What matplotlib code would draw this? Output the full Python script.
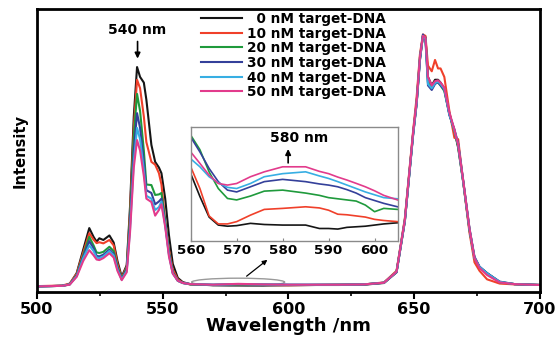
import numpy as np
import matplotlib
matplotlib.use("Agg")
import matplotlib.pyplot as plt
from matplotlib.patches import Ellipse
from matplotlib.ticker import MultipleLocator

plt.rcParams['font.family'] = ['DejaVu Sans']
plt.rcParams['font.weight'] = 'bold'

# main spectrum (wavelength in nm, intensity in a.u.)
wl = [500, 505, 510, 513, 515.8, 518.4, 520.8, 522.5, 523.7, 524.8,
      526.4, 528.8, 530.5, 532, 533.7, 535.7, 537, 538.5, 539.8, 541,
      542.5, 543.5, 545.5, 547, 548.5, 549.5, 551, 552.5, 554, 556,
      558, 561, 570, 580, 590, 600, 610, 620, 630, 638,
      643, 646.3, 649.6, 651, 652.3, 653.5, 654.5, 655.5, 657, 658.3,
      659.5, 660.5, 662, 664, 666, 667.5, 669.5, 672, 674, 676,
      679, 684, 690, 700]

i_0nM = [0.020, 0.021, 0.022, 0.028, 0.067, 0.150, 0.226, 0.195, 0.178, 0.190,
         0.184, 0.200, 0.175, 0.110, 0.054, 0.095, 0.300, 0.620, 0.795, 0.760,
         0.740, 0.680, 0.520, 0.460, 0.440, 0.420, 0.330, 0.200, 0.100, 0.050,
         0.035, 0.028, 0.024, 0.024, 0.023, 0.024, 0.025, 0.025, 0.026, 0.032,
         0.070, 0.250, 0.560, 0.670, 0.820, 0.905, 0.900, 0.760, 0.730, 0.750,
         0.750, 0.740, 0.720, 0.630, 0.570, 0.510, 0.390, 0.220, 0.120, 0.088,
         0.066, 0.035, 0.028, 0.025]
i_10nM = [0.021, 0.022, 0.023, 0.030, 0.065, 0.140, 0.208, 0.185, 0.173, 0.176,
          0.172, 0.184, 0.165, 0.100, 0.050, 0.090, 0.280, 0.580, 0.750, 0.720,
          0.620, 0.530, 0.460, 0.450, 0.420, 0.380, 0.250, 0.150, 0.080, 0.045,
          0.033, 0.027, 0.025, 0.026, 0.025, 0.024, 0.025, 0.026, 0.027, 0.034,
          0.075, 0.260, 0.570, 0.690, 0.840, 0.910, 0.905, 0.800, 0.780, 0.820,
          0.790, 0.790, 0.760, 0.640, 0.545, 0.540, 0.390, 0.210, 0.105, 0.075,
          0.045, 0.030, 0.027, 0.025]
i_20nM = [0.020, 0.021, 0.022, 0.027, 0.060, 0.130, 0.195, 0.165, 0.140, 0.138,
          0.142, 0.160, 0.145, 0.090, 0.047, 0.085, 0.260, 0.550, 0.700, 0.640,
          0.500, 0.380, 0.378, 0.343, 0.345, 0.350, 0.250, 0.140, 0.070, 0.040,
          0.032, 0.027, 0.025, 0.027, 0.026, 0.025, 0.025, 0.026, 0.027, 0.033,
          0.072, 0.255, 0.560, 0.670, 0.830, 0.905, 0.900, 0.740, 0.720, 0.740,
          0.740, 0.730, 0.710, 0.630, 0.570, 0.515, 0.390, 0.220, 0.120, 0.088,
          0.067, 0.035, 0.028, 0.025]
i_30nM = [0.020, 0.021, 0.022, 0.027, 0.058, 0.125, 0.180, 0.155, 0.128, 0.126,
          0.132, 0.150, 0.135, 0.085, 0.045, 0.080, 0.240, 0.500, 0.632, 0.580,
          0.460, 0.360, 0.350, 0.310, 0.320, 0.330, 0.240, 0.135, 0.068, 0.040,
          0.032, 0.028, 0.026, 0.028, 0.027, 0.026, 0.026, 0.026, 0.027, 0.033,
          0.070, 0.250, 0.555, 0.665, 0.820, 0.910, 0.890, 0.730, 0.714, 0.735,
          0.742, 0.730, 0.715, 0.625, 0.575, 0.525, 0.395, 0.225, 0.125, 0.090,
          0.067, 0.037, 0.028, 0.025]
i_40nM = [0.020, 0.021, 0.022, 0.027, 0.056, 0.120, 0.165, 0.145, 0.122, 0.120,
          0.126, 0.145, 0.130, 0.080, 0.044, 0.075, 0.220, 0.460, 0.580, 0.540,
          0.430, 0.340, 0.330, 0.290, 0.300, 0.320, 0.235, 0.130, 0.066, 0.040,
          0.032, 0.028, 0.026, 0.028, 0.027, 0.026, 0.026, 0.026, 0.027, 0.033,
          0.071, 0.252, 0.558, 0.668, 0.825, 0.905, 0.895, 0.735, 0.720, 0.738,
          0.744, 0.735, 0.718, 0.628, 0.572, 0.520, 0.390, 0.222, 0.120, 0.089,
          0.066, 0.036, 0.028, 0.025]
i_50nM = [0.020, 0.021, 0.022, 0.026, 0.054, 0.110, 0.148, 0.130, 0.115, 0.113,
          0.120, 0.137, 0.122, 0.075, 0.042, 0.070, 0.210, 0.440, 0.537, 0.500,
          0.410, 0.330, 0.318, 0.270, 0.290, 0.310, 0.230, 0.125, 0.065, 0.040,
          0.032, 0.028, 0.026, 0.029, 0.027, 0.026, 0.026, 0.026, 0.027, 0.033,
          0.072, 0.255, 0.565, 0.675, 0.830, 0.905, 0.900, 0.760, 0.730, 0.745,
          0.748, 0.740, 0.722, 0.635, 0.575, 0.520, 0.395, 0.225, 0.120, 0.085,
          0.060, 0.034, 0.028, 0.025]

# zoomed 560-605 nm region (inset)
wl_in = [560, 562, 564, 566, 568, 570, 573, 576, 580, 585,
         588, 590, 592, 594, 596, 598, 600, 602, 605]
in_0nM = [0.59, 0.39, 0.21, 0.14, 0.13, 0.135, 0.155, 0.145, 0.14, 0.14,
          0.11, 0.11, 0.105, 0.12, 0.125, 0.13, 0.14, 0.15, 0.16]
in_10nM = [0.65, 0.46, 0.22, 0.15, 0.15, 0.17, 0.227, 0.277, 0.286, 0.30,
           0.29, 0.27, 0.235, 0.23, 0.22, 0.21, 0.19, 0.18, 0.17]
in_20nM = [0.927, 0.80, 0.606, 0.46, 0.373, 0.36, 0.394, 0.437, 0.446, 0.42,
           0.40, 0.38, 0.37, 0.36, 0.35, 0.315, 0.257, 0.286, 0.277]
in_30nM = [0.91, 0.78, 0.636, 0.52, 0.446, 0.43, 0.475, 0.52, 0.54, 0.52,
           0.50, 0.49, 0.475, 0.45, 0.42, 0.38, 0.355, 0.33, 0.30]
in_40nM = [0.72, 0.65, 0.563, 0.51, 0.47, 0.46, 0.504, 0.563, 0.59, 0.606,
           0.57, 0.548, 0.52, 0.49, 0.46, 0.43, 0.405, 0.38, 0.37]
in_50nM = [0.78, 0.68, 0.577, 0.504, 0.49, 0.504, 0.563, 0.606, 0.65, 0.65,
           0.61, 0.59, 0.56, 0.534, 0.505, 0.475, 0.44, 0.40, 0.36]

labels = ['\u20070 nM target-DNA', '10 nM target-DNA', '20 nM target-DNA',
          '30 nM target-DNA', '40 nM target-DNA', '50 nM target-DNA']
colors = ['#151515', '#f0402a', '#1f9a3c', '#34409a', '#37aee3', '#e23b8c']

main_series = [i_0nM, i_10nM, i_20nM, i_30nM, i_40nM, i_50nM]
inset_series = [in_0nM, in_10nM, in_20nM, in_30nM, in_40nM, in_50nM]

fig = plt.figure(figsize=(5.56, 3.4), dpi=100)
ax = fig.add_axes([0.0665, 0.141, 0.9045, 0.8325])

for y, c, lab in zip(main_series, colors, labels):
    ax.plot(wl, y, color=c, lw=1.5, label=lab)

ax.set_xlim(500, 700)
ax.set_ylim(0, 1.0)
ax.set_yticks([])
ax.xaxis.set_major_locator(MultipleLocator(50))
ax.xaxis.set_minor_locator(MultipleLocator(25))
ax.tick_params(axis='x', which='major', direction='out', length=5, width=1.5,
               labelsize=11.5, pad=2)
ax.tick_params(axis='x', which='minor', direction='out', length=3, width=1.2)
for s in ax.spines.values():
    s.set_linewidth(2)
ax.set_xlabel('Wavelength /nm', fontsize=13, fontweight='bold', labelpad=0)
ax.set_ylabel('Intensity', fontsize=10.5, fontweight='bold', labelpad=7)

leg = ax.legend(loc='upper left', bbox_to_anchor=(0.327, 0.99), frameon=False,
                fontsize=9.8, handlelength=2.95, handletextpad=0.37,
                labelspacing=0.05, borderpad=0, borderaxespad=0)

# 540 nm peak marker
ax.annotate('', xy=(540, 0.815), xytext=(540, 0.895),
            arrowprops=dict(arrowstyle='-|>', color='black', lw=1.2, mutation_scale=8))
ax.text(540, 0.9, '540 nm', ha='center', va='bottom', fontsize=10, fontweight='bold')

# ellipse on the baseline and arrow to inset
ax.add_patch(Ellipse((580, 0.035), 37, 0.028, fill=False, edgecolor='#9a9a9a', lw=1))
ax.annotate('', xy=(592.5, 0.12), xytext=(582.5, 0.05),
            arrowprops=dict(arrowstyle='-|>', color='black', lw=0.9, mutation_scale=7))

# inset
axin = fig.add_axes([0.343, 0.291, 0.372, 0.336])
for y, c in zip(inset_series, colors):
    axin.plot(wl_in, y, color=c, lw=1.2)
axin.set_xlim(560, 605)
axin.set_ylim(0, 1.0)
axin.set_yticks([])
axin.set_xticks([560, 570, 580, 590, 600])
axin.tick_params(axis='x', direction='in', length=2, width=0.8, labelsize=9.7,
                 pad=2, color='#888888')
for s in axin.spines.values():
    s.set_color('#8a8a8a')
    s.set_linewidth(1)
axin.annotate('', xy=(581.2, 0.83), xytext=(581.2, 0.66),
              arrowprops=dict(arrowstyle='-|>', color='black', lw=1.2, mutation_scale=8))
axin.text(583.5, 0.84, '580 nm', ha='center', va='bottom', fontsize=10, fontweight='bold')

fig.savefig('out.png', dpi=100)
